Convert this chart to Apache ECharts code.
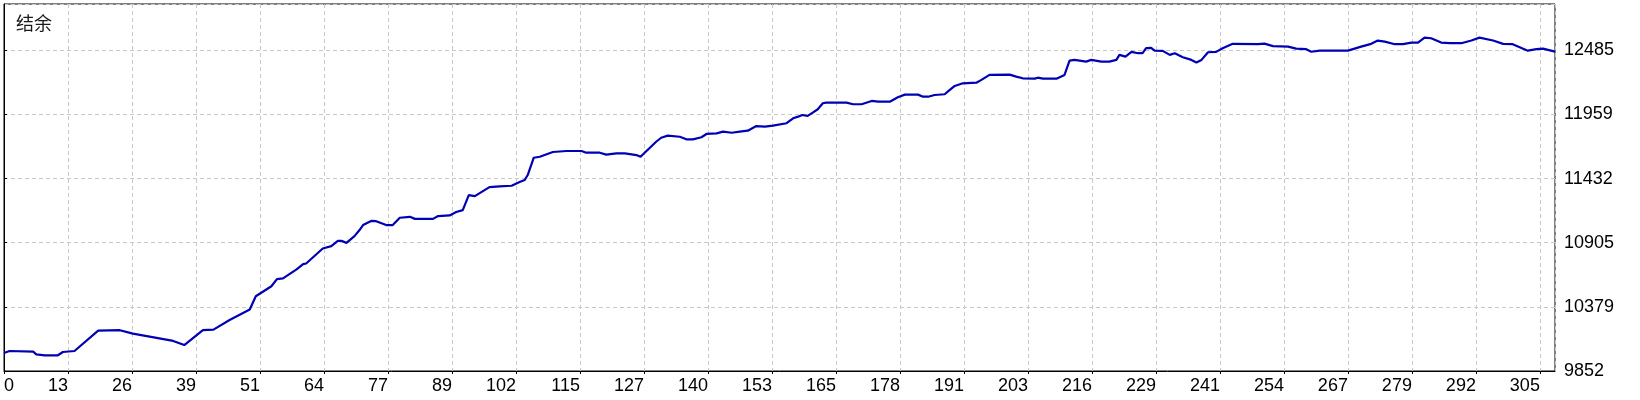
<!DOCTYPE html>
<html>
<head>
<meta charset="utf-8">
<script src="https://cdn.jsdelivr.net/npm/echarts@6/dist/echarts.min.js"></script>
<style>
html,body{margin:0;padding:0;background:#fff;}
#chart{width:1640px;height:400px;}
</style>
</head>
<body>
<div id="chart"></div>
<script>
// Balance curve (trade number, balance)
var tradeNo = [0.0,1.1,5.8,6.4,8.1,10.7,11.7,14.0,18.7,23.0,25.6,33.6,35.8,39.5,41.6,44.8,48.8,50.0,53.1,54.2,55.4,58.1,59.4,60.0,63.3,65.0,66.3,67.0,68.0,69.6,70.6,71.3,73.0,73.9,75.9,77.2,78.6,80.6,81.6,85.2,86.2,88.5,89.8,91.1,92.3,93.5,96.4,98.4,100.8,102.4,103.4,104.0,105.2,106.4,109.0,111.7,114.7,115.6,118.3,119.6,121.6,123.3,125.6,126.4,129.5,130.5,131.8,134.2,135.5,136.8,138.5,139.5,141.5,142.8,144.5,146.1,147.7,149.4,151.1,152.7,155.4,156.7,157.7,158.5,159.6,160.6,161.6,162.6,163.3,167.3,168.6,170.3,172.3,173.6,175.9,177.5,178.9,181.5,182.5,183.5,184.8,186.8,187.4,188.8,190.4,193.1,194.1,195.7,199.7,201.0,202.3,204.7,205.3,206.3,209.0,210.6,211.6,212.6,214.9,215.9,217.9,219.5,220.9,221.5,222.7,223.9,225.2,226.1,226.8,227.8,228.5,230.1,231.5,232.5,234.1,235.8,236.8,237.8,239.1,240.7,242.0,244.0,249.0,250.3,252.0,255.0,256.6,258.6,259.6,261.3,266.9,269.5,271.5,272.8,274.2,276.2,277.8,279.5,280.8,282.1,283.4,285.4,287.1,289.4,291.4,293.0,295.7,297.7,299.6,302.6,304.3,305.6,308.0];
var balance = [10000,10016,10011,9989,9981,9981,10008,10016,10184,10187,10159,10099,10065,10187,10192,10271,10357,10466,10548,10606,10612,10686,10729,10735,10858,10877,10921,10921,10904,10959,11009,11050,11085,11082,11050,11050,11110,11118,11101,11101,11124,11129,11157,11173,11296,11288,11362,11368,11373,11403,11420,11461,11603,11611,11650,11658,11658,11644,11644,11628,11639,11639,11625,11611,11734,11767,11784,11775,11754,11754,11771,11798,11803,11817,11808,11817,11825,11863,11858,11866,11886,11927,11940,11954,11946,11973,12001,12050,12055,12055,12042,12042,12069,12063,12063,12099,12121,12121,12104,12104,12118,12124,12145,12192,12214,12219,12242,12283,12285,12269,12255,12252,12260,12252,12252,12283,12400,12406,12392,12406,12392,12392,12406,12447,12433,12472,12461,12461,12502,12505,12482,12480,12447,12461,12428,12406,12384,12406,12469,12472,12502,12538,12535,12540,12519,12515,12499,12494,12473,12482,12482,12515,12538,12565,12556,12535,12535,12548,12548,12589,12584,12548,12543,12543,12565,12589,12565,12538,12535,12482,12494,12499,12474];
var xTickLabels = ['0','13','26','39','51','64','77','89','102','115','127','140','153','165','178','191','203','216','229','241','254','267','279','292','305'];
var yTickLabels = ['9852','10379','10905','11432','11959','12485'];
var titleText = '结余';

var X_INTERVAL = 305 / 24;
var Y_MIN = 9852, Y_INTERVAL = 526.65;

var points = tradeNo.map(function (t, i) { return [t, balance[i]]; });

var chart = echarts.init(document.getElementById('chart'), null, {renderer: 'canvas'});
var labelFont = 'Liberation Sans, Arial, sans-serif';
chart.setOption({
  animation: false,
  backgroundColor: '#ffffff',
  title: {
    text: titleText,
    left: 11,
    top: 9,
    textStyle: {fontSize: 18, fontWeight: 'normal', color: '#1a1a1a', fontFamily: 'Noto Sans CJK SC'}
  },
  grid: {
    left: 4, top: 4, right: 85, bottom: 29,
    containLabel: false,
    outerBoundsMode: 'none',
    show: true, borderColor: '#000', borderWidth: 1, backgroundColor: 'transparent'
  },
  xAxis: {
    type: 'value',
    min: 0, max: 308, interval: X_INTERVAL,
    axisLine: {show: true, lineStyle: {color: '#000', width: 1}},
    axisTick: {show: true, length: 3, lineStyle: {color: '#000'}},
    splitLine: {show: true, lineStyle: {color: '#c8c8c8', type: [4, 3], width: 1}},
    axisLabel: {
      show: true, interval: 0, hideOverlap: false,
      showMinLabel: true, showMaxLabel: false,
      align: 'right', alignMinLabel: 'left',
      margin: 6, fontSize: 18, color: '#000', fontFamily: labelFont,
      formatter: function (v) {
        var k = Math.round(v / X_INTERVAL);
        return xTickLabels[k] !== undefined ? xTickLabels[k] : '';
      }
    }
  },
  yAxis: {
    type: 'value', position: 'right',
    min: Y_MIN, max: 12865, interval: Y_INTERVAL,
    axisLine: {show: true, lineStyle: {color: '#000', width: 1}},
    axisTick: {show: true, length: 3, lineStyle: {color: '#000'}},
    splitLine: {show: true, lineStyle: {color: '#c8c8c8', type: [4, 3], width: 1}},
    axisLabel: {
      show: true, interval: 0, hideOverlap: false,
      showMaxLabel: false,
      margin: 9, fontSize: 18, color: '#000', fontFamily: labelFont,
      padding: [4, 0, 0, 0],
      formatter: function (v) {
        var k = Math.round((v - Y_MIN) / Y_INTERVAL);
        return yTickLabels[k] !== undefined ? yTickLabels[k] : '';
      }
    }
  },
  series: [{
    type: 'line',
    data: points,
    showSymbol: false,
    symbol: 'none',
    smooth: false,
    lineStyle: {color: '#0000b4', width: 2.2},
    itemStyle: {color: '#0000b4'}
  }]
});
</script>
</body>
</html>
